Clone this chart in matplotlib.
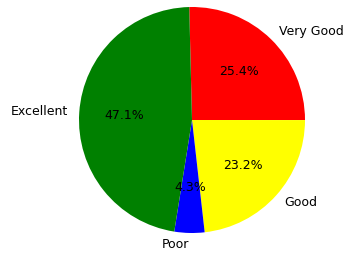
import matplotlib
matplotlib.use("Agg")
import matplotlib.pyplot as plt

labels = ["Very Good", "Good", "Poor", "Excellent"]
values = [25.4, 23.2, 4.3, 47.1]
colors = ["red", "yellow", "blue", "green"]

fig = plt.figure(figsize=(3.47, 2.57), dpi=100)
ax = fig.add_axes([0, 0, 1, 1])
ax.pie(values, labels=labels, colors=colors, autopct="%1.1f%%",
       startangle=91.4, counterclock=False,
       textprops={"fontsize": 9})
r = 113.0
cx, cy = 192.0, 120.0
ax.set_aspect("auto")
ax.set_xlim(-cx / r, (347 - cx) / r)
ax.set_ylim(-(257 - cy) / r, cy / r)
ax.axis("off")
fig.savefig("out.png", dpi=100)
